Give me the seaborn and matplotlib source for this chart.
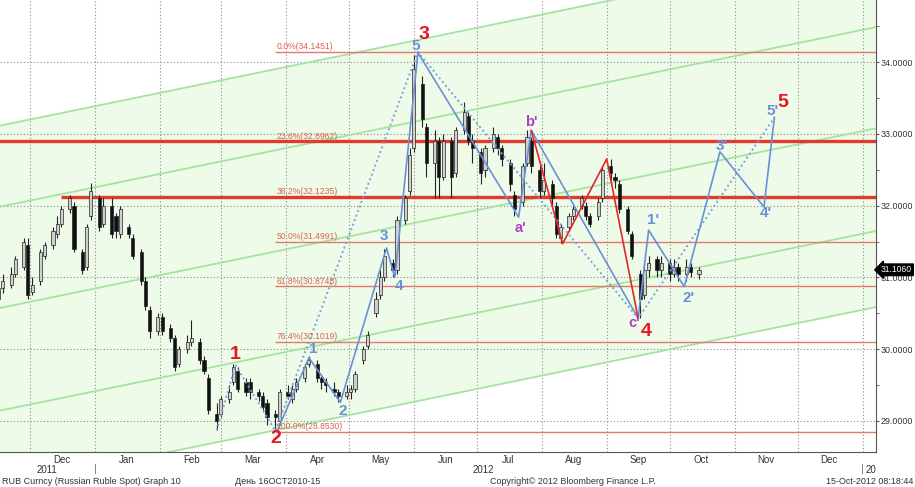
import matplotlib
matplotlib.use("Agg")
import matplotlib.pyplot as plt
from matplotlib.ticker import FormatStrFormatter, FixedLocator
import numpy as np
import pandas as pd
import seaborn as sns

# RUB spot candles, every second trading day up to 15-Oct-2012
opens = [
    30.70, 30.85, 30.90, 31.05, 31.15, 31.45, 30.80, 30.95, 31.30, 31.45,
    31.60, 31.75, 31.95, 32.00, 31.35, 31.15, 31.85, 32.10, 31.75, 32.00,
    31.85, 31.60, 31.70, 31.55, 31.35, 30.95, 30.55, 30.25, 30.45, 30.30,
    30.15, 29.80, 30.00, 30.10, 30.10, 29.85, 29.60, 29.10, 29.10, 29.30,
    29.55, 29.70, 29.55, 29.55, 29.40, 29.35, 29.25, 29.10, 29.00, 29.40,
    29.30, 29.45, 29.60, 29.80, 29.80, 29.60, 29.55, 29.45, 29.40, 29.35,
    29.40, 29.45, 29.85, 30.05, 30.50, 30.75, 31.00, 31.20, 31.10, 31.80,
    32.20, 32.80, 33.70, 33.10, 32.60, 32.90, 32.40, 32.90, 32.45, 33.05,
    33.25, 32.90, 32.75, 32.50, 32.80, 32.95, 32.80, 32.60, 32.15, 32.05,
    32.60, 32.90, 32.50, 32.20, 32.30, 32.00, 31.55, 31.70, 31.85, 32.00,
    32.00, 31.85, 31.85, 32.10, 32.55, 32.40, 32.30, 31.95, 31.60, 31.05,
    30.75, 31.10, 31.25, 31.10, 31.20, 31.05, 31.15, 31.05, 31.15, 31.05,
]
highs = [
    30.95, 31.05, 31.15, 31.30, 31.55, 31.55, 31.00, 31.40, 31.50, 31.70,
    31.85, 32.00, 32.15, 32.05, 31.40, 31.75, 32.32, 32.15, 32.10, 32.10,
    31.90, 32.00, 31.75, 31.60, 31.40, 31.00, 30.60, 30.50, 30.50, 30.35,
    30.20, 30.05, 30.20, 30.40, 30.15, 29.90, 29.65, 29.25, 29.35, 29.50,
    29.80, 29.75, 29.60, 29.60, 29.45, 29.40, 29.30, 29.15, 29.45, 29.50,
    29.50, 29.60, 29.80, 29.90, 29.85, 29.65, 29.60, 29.55, 29.45, 29.50,
    29.50, 29.70, 30.05, 30.25, 30.80, 31.10, 31.40, 31.25, 31.85, 32.15,
    32.80, 34.10, 33.80, 33.15, 33.05, 32.95, 33.00, 32.95, 33.10, 33.45,
    33.30, 33.00, 32.80, 32.85, 33.10, 33.00, 32.85, 32.65, 32.20, 32.60,
    33.05, 32.95, 32.55, 32.60, 32.35, 32.05, 31.75, 31.90, 32.00, 32.15,
    32.05, 31.90, 32.10, 32.55, 32.65, 32.45, 32.35, 32.00, 31.65, 31.10,
    31.20, 31.30, 31.30, 31.30, 31.25, 31.25, 31.20, 31.25, 31.20, 31.15,
]
lows = [
    30.62, 30.78, 30.85, 31.00, 31.10, 30.70, 30.75, 30.90, 31.25, 31.40,
    31.55, 31.70, 31.90, 31.35, 31.05, 31.10, 31.80, 31.65, 31.70, 31.55,
    31.55, 31.55, 31.55, 31.25, 30.90, 30.55, 30.15, 30.20, 30.20, 30.10,
    29.70, 29.75, 29.95, 30.05, 29.80, 29.65, 29.10, 28.87, 29.05, 29.25,
    29.50, 29.40, 29.35, 29.30, 29.28, 29.15, 28.95, 28.86, 28.95, 29.30,
    29.25, 29.40, 29.55, 29.75, 29.55, 29.45, 29.40, 29.35, 29.26, 29.30,
    29.30, 29.40, 29.80, 30.00, 30.45, 30.70, 30.95, 31.00, 31.05, 31.75,
    32.15, 32.75, 33.10, 32.40, 32.10, 32.10, 32.35, 32.10, 32.40, 33.00,
    32.85, 32.60, 32.30, 32.40, 32.75, 32.70, 32.55, 32.20, 31.85, 32.00,
    32.55, 32.45, 32.10, 32.15, 32.00, 31.55, 31.48, 31.65, 31.80, 31.95,
    31.80, 31.70, 31.80, 32.05, 32.35, 32.25, 31.90, 31.60, 31.25, 30.43,
    30.70, 31.00, 31.00, 31.00, 30.95, 31.00, 30.95, 30.95, 31.00, 30.98,
]
closes = [
    30.85, 30.95, 31.05, 31.25, 31.50, 30.75, 30.90, 31.35, 31.45, 31.65,
    31.75, 31.95, 32.10, 31.40, 31.10, 31.70, 32.20, 31.70, 32.00, 31.60,
    31.65, 31.95, 31.60, 31.30, 30.95, 30.60, 30.25, 30.45, 30.25, 30.15,
    29.75, 30.00, 30.10, 30.15, 29.85, 29.70, 29.15, 29.00, 29.30, 29.40,
    29.75, 29.45, 29.40, 29.40, 29.35, 29.20, 29.05, 29.05, 29.40, 29.35,
    29.45, 29.55, 29.75, 29.85, 29.60, 29.55, 29.50, 29.40, 29.35, 29.40,
    29.45, 29.65, 30.00, 30.20, 30.70, 31.00, 31.30, 31.10, 31.80, 32.10,
    32.70, 33.90, 33.20, 32.60, 32.90, 32.40, 32.90, 32.40, 33.05, 33.30,
    32.90, 32.80, 32.45, 32.80, 33.00, 32.80, 32.65, 32.30, 31.95, 32.55,
    32.95, 32.55, 32.20, 32.35, 32.10, 31.60, 31.70, 31.85, 31.95, 32.10,
    31.85, 31.75, 32.05, 32.50, 32.45, 32.35, 31.95, 31.65, 31.30, 30.70,
    31.10, 31.20, 31.10, 31.20, 31.05, 31.15, 31.05, 31.15, 31.08, 31.106,
]

# fibonacci retracement of the Mar -> Jun move
fib_pcts = ["0.0%", "23.6%", "38.2%", "50.0%", "61.8%", "76.4%", "100.0%"]
fib_levels = [34.1451, 32.8962, 32.1235, 31.4991, 30.8748, 30.1019, 28.8530]
fib_start = "2012-03-27"

# hand drawn support / resistance
strong_levels = [32.8962, 32.1235]
strong_starts = ["2011-11-10", "2011-12-16"]

# channel lines
channel_dates = ["2011-11-16", "2013-01-08"]
channel_lo = [33.11, 31.98, 30.57, 29.14, 28.08]
channel_hi = [35.62, 34.49, 33.08, 31.65, 30.59]

# wave count
dotted_dates = ["2012-02-28", "2012-03-08", "2012-03-27", "2012-06-03", "2012-09-16", "2012-11-20"]
dotted_px = [28.87, 29.78, 28.86, 34.14, 30.43, 33.23]
solid_dates = ["2012-03-28", "2012-04-12", "2012-04-27", "2012-05-19", "2012-05-23", "2012-06-03",
               "2012-07-21", "2012-07-27", "2012-09-16", "2012-09-21", "2012-10-08", "2012-10-25",
               "2012-11-15", "2012-11-20"]
solid_px = [28.87, 29.88, 29.26, 31.41, 31.00, 34.13, 31.84, 33.05, 30.43, 31.66, 30.87, 32.75, 31.98, 33.23]
red_dates = ["2012-07-27", "2012-08-11", "2012-09-01", "2012-09-16"]
red_px = [33.05, 31.47, 32.65, 30.43]

red_lbl = ["1", "2", "3", "4", "5"]
red_lbl_dates = ["2012-03-08", "2012-03-27", "2012-06-06", "2012-09-20", "2012-11-24"]
red_lbl_px = [29.93, 28.76, 34.38, 30.24, 33.43]
blue_lbl = ["5", "1", "2", "3", "4", "1'", "2'", "3'", "4'", "5'"]
blue_lbl_dates = ["2012-06-02", "2012-04-14", "2012-04-28", "2012-05-18", "2012-05-25",
                  "2012-09-23", "2012-10-10", "2012-10-26", "2012-11-16", "2012-11-19"]
blue_lbl_px = [34.22, 30.00, 29.14, 31.58, 30.88, 31.80, 30.71, 32.83, 31.90, 33.32]
abc_lbl = ["a'", "b'", "c'"]
abc_lbl_dates = ["2012-07-22", "2012-07-27", "2012-09-14"]
abc_lbl_px = [31.69, 33.16, 30.37]

months = ["Dec", "Jan", "Feb", "Mar", "Apr", "May", "Jun", "Jul", "Aug", "Sep", "Oct", "Nov", "Dec"]

BLUE = "#6a90d8"
RED = "#e8141e"
PURPLE = "#b23fc4"

sns.set_style("white")
plt.rcParams["font.family"] = ["Liberation Sans", "DejaVu Sans"]
bold_family = ["Liberation Sans", "DejaVu Sans"]

fig = plt.figure(figsize=(9.15, 4.87), dpi=100)
ax = fig.add_axes([0, 35 / 487, 876 / 915, 452 / 487])

x0 = pd.Timestamp("2011-11-16 16:40")
x1 = pd.Timestamp("2013-01-07 10:20")

# channel fill and lines
cd = pd.to_datetime(channel_dates)
ax.fill_between(cd, [channel_lo[-1], channel_hi[-1]], [channel_lo[0], channel_hi[0]],
                color="#eefbe9", lw=0, zorder=0.1)
for lo, hi in zip(channel_lo, channel_hi):
    ax.plot(cd, [lo, hi], color="#a6e3a0", lw=1.3, zorder=1)

# fib levels
ax.hlines(fib_levels, pd.Timestamp(fib_start), x1, color="#e07a6c", lw=1.0, zorder=1.5)
for pct, lvl in zip(fib_pcts, fib_levels):
    ax.text(pd.Timestamp(fib_start) + pd.Timedelta(days=0.5), lvl + 0.01, f"{pct}({lvl:.4f})",
            ha="left", va="bottom", fontsize=6.2, color="#d9644f", zorder=5)
for lvl, st in zip(strong_levels, strong_starts):
    ax.hlines(lvl, pd.Timestamp(st), x1, color="#e03a2c", lw=2.4, zorder=2)

# candles
dates = pd.bdate_range(end="2012-10-15", periods=2 * len(closes))[1::2]
o = np.array(opens)
c = np.array(closes)
up = c >= o
ax.vlines(dates, lows, highs, color="#222222", lw=0.8, zorder=3)
ax.bar(dates, np.maximum(np.abs(c - o), 0.01), bottom=np.minimum(o, c), width=1.5,
       color=np.where(up, "#d0d0d0", "#111111"), edgecolor="#222222", linewidth=0.5, zorder=3.2)

# wave lines
sns.lineplot(x=pd.to_datetime(dotted_dates), y=dotted_px, sort=False, estimator=None,
             color="#7d9fdd", lw=1.4, linestyle=(0, (1, 1.5)), ax=ax, zorder=4)
sns.lineplot(x=pd.to_datetime(solid_dates), y=solid_px, sort=False, estimator=None,
             color=BLUE, lw=1.2, ax=ax, zorder=4)
sns.lineplot(x=pd.to_datetime(red_dates), y=red_px, sort=False, estimator=None,
             color="#e02828", lw=1.2, ax=ax, zorder=4.1)

for txts, ds, ps, col, fs in [(red_lbl, red_lbl_dates, red_lbl_px, RED, 14),
                              (blue_lbl, blue_lbl_dates, blue_lbl_px, BLUE, 11),
                              (abc_lbl, abc_lbl_dates, abc_lbl_px, PURPLE, 10.5)]:
    for t, d, p in zip(txts, ds, ps):
        ax.text(pd.Timestamp(d), p, t, ha="center", va="center", fontsize=fs, color=col,
                fontweight="bold", family=bold_family, zorder=6)

# axes
ax.set_xlim(x0, x1)
ax.set_ylim(28.568, 34.864)
ax.set_xlabel("")
ax.set_ylabel("")
month_starts = pd.date_range("2011-12-01", "2013-01-01", freq="MS")
ax.set_xticks(month_starts)
ax.set_xticklabels([])
ax.tick_params(axis="x", direction="out", length=4, color="#777777")
ax.yaxis.tick_right()
ax.set_yticks([29, 30, 31, 32, 33, 34])
ax.yaxis.set_minor_locator(FixedLocator([29.5, 30.5, 31.5, 32.5, 33.5, 34.5]))
ax.yaxis.set_major_formatter(FormatStrFormatter("%.4f"))
ax.tick_params(axis="y", which="major", direction="out", length=2.5, color="#555555",
               labelsize=6.4, labelcolor="#333333", pad=0.8)
ax.tick_params(axis="y", which="minor", direction="out", length=2, color="#555555")
ax.grid(True, which="major", color="#8a8a8a", lw=0.8, ls=(0, (1, 2)))
ax.set_axisbelow(True)
for s in ["top", "left"]:
    ax.spines[s].set_visible(False)
for s in ["right", "bottom"]:
    ax.spines[s].set_color("#555555")
    ax.spines[s].set_linewidth(0.8)

# month and year labels
for m, d in zip(months, pd.date_range("2011-12-01", periods=13, freq="MS") + pd.Timedelta(days=15)):
    ax.annotate(m, xy=(d, 0), xycoords=("data", "axes fraction"), xytext=(0, -2),
                textcoords="offset points", ha="center", va="top", fontsize=7, color="#333333")
for yr, d in [("2011", "2011-12-09"), ("2012", "2012-07-04"), ("20", "2013-01-05")]:
    ax.annotate(yr, xy=(pd.Timestamp(d), 0), xycoords=("data", "axes fraction"), xytext=(0, -9.5),
                textcoords="offset points", ha="center", va="top", fontsize=7, color="#333333")
for d in ["2012-01-01", "2013-01-01"]:
    ax.annotate("|", xy=(pd.Timestamp(d), 0), xycoords=("data", "axes fraction"), xytext=(0, -9),
                textcoords="offset points", ha="center", va="top", fontsize=8, color="#777777")

# last price tag
ax.annotate(f"{closes[-1]:.4f}", xy=(1, closes[-1]), xycoords=("axes fraction", "data"),
            xytext=(3.5, 0), textcoords="offset points", ha="left", va="center", fontsize=6.2,
            color="white", bbox=dict(boxstyle="larrow,pad=0.15", fc="black", ec="black"), zorder=10)

# footer
fy = 1 - 481 / 487
fs_foot = 6.5
fig.text(2 / 915, fy, "RUB Curncy (Russian Ruble Spot) Graph 10", ha="left", va="center", fontsize=fs_foot, color="#333333")
fig.text(235 / 915, fy, "День 16OCT2010-15", ha="left", va="center", fontsize=fs_foot, color="#333333")
fig.text(490 / 915, fy, "Copyright© 2012 Bloomberg Finance L.P.", ha="left", va="center", fontsize=fs_foot, color="#333333")
fig.text(913 / 915, fy, "15-Oct-2012 08:18:44", ha="right", va="center", fontsize=fs_foot, color="#333333")

fig.savefig("out.png", dpi=100)
